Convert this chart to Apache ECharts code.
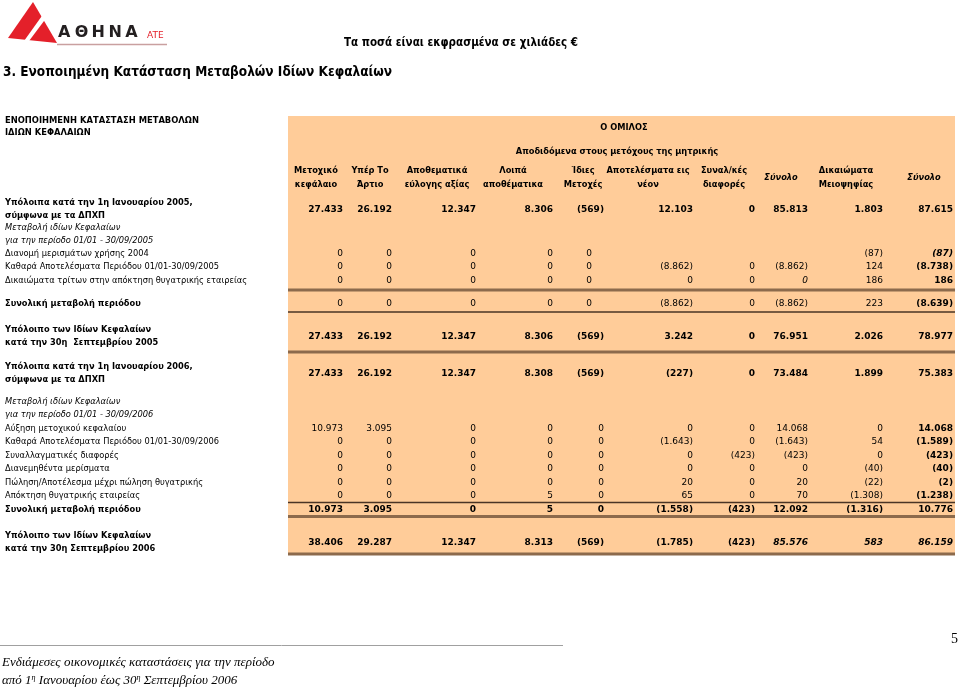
<!DOCTYPE html>
<html><head><meta charset="utf-8">
<script src="https://cdn.jsdelivr.net/npm/echarts@6/dist/echarts.min.js"></script>
<style>html,body{margin:0;padding:0;background:#fff}#c{width:960px;height:689px}</style>
</head><body><div id="c"></div>
<script>
// ================= DATA =================
const pageTitle = '3. Ενοποιημένη Κατάσταση Μεταβολών Ιδίων Κεφαλαίων';
const unitNote = 'Τα ποσά είναι εκφρασμένα σε χιλιάδες €';
const tableTitle = 'ΕΝΟΠΟΙΗΜΕΝΗ ΚΑΤΑΣΤΑΣΗ ΜΕΤΑΒΟΛΩΝ\nΙΔΙΩΝ ΚΕΦΑΛΑΙΩΝ';
const groupTitle = 'Ο ΟΜΙΛΟΣ';
const groupSubtitle = 'Αποδιδόμενα στους μετόχους της μητρικής';
const columnHeaders = ['Μετοχικό\nκεφάλαιο', 'Υπέρ Το\nΆρτιο', 'Αποθεματικά\nεύλογης αξίας', 'Λοιπά\nαποθέματικα', 'Ίδιες\nΜετοχές', 'Αποτελέσματα εις\nνέον', 'Συναλ/κές\nδιαφορές', 'Σύνολο', 'Δικαιώματα\nΜειοψηφίας', 'Σύνολο'];
const rowLabels = [
  'Υπόλοιπα κατά την 1η Ιανουαρίου 2005,\nσύμφωνα με τα ΔΠΧΠ',
  'Μεταβολή ιδίων Κεφαλαίων\nγια την περίοδο 01/01 - 30/09/2005',
  'Διανομή μερισμάτων χρήσης 2004',
  'Καθαρά Αποτελέσματα Περιόδου 01/01-30/09/2005',
  'Δικαιώματα τρίτων στην απόκτηση θυγατρικής εταιρείας',
  'Συνολική μεταβολή περιόδου',
  'Υπόλοιπο των Ιδίων Κεφαλαίων\nκατά την 30η  Σεπτεμβρίου 2005',
  'Υπόλοιπα κατά την 1η Ιανουαρίου 2006,\nσύμφωνα με τα ΔΠΧΠ',
  'Μεταβολή ιδίων Κεφαλαίων\nγια την περίοδο 01/01 - 30/09/2006',
  'Αύξηση μετοχικού κεφαλαίου',
  'Καθαρά Αποτελέσματα Περιόδου 01/01-30/09/2006',
  'Συναλλαγματικές διαφορές',
  'Διανεμηθέντα μερίσματα',
  'Πώληση/Αποτέλεσμα μέχρι πώληση θυγατρικής',
  'Απόκτηση θυγατρικής εταιρείας',
  'Συνολική μεταβολή περιόδου',
  'Υπόλοιπο των Ιδίων Κεφαλαίων\nκατά την 30η Σεπτεμβρίου 2006'
];
// values in thousands of euro, one array per row (null = empty cell)
const open2005      = [27433, 26192, 12347, 8306, -569, 12103, 0, 85813, 1803, 87615];
const header2005    = [];
const dividends2004 = [0, 0, 0, 0, 0, null, null, null, -87, -87];
const netResult2005 = [0, 0, 0, 0, 0, -8862, 0, -8862, 124, -8738];
const minority2005  = [0, 0, 0, 0, 0, 0, 0, 0, 186, 186];
const total2005     = [0, 0, 0, 0, 0, -8862, 0, -8862, 223, -8639];
const close2005     = [27433, 26192, 12347, 8306, -569, 3242, 0, 76951, 2026, 78977];
const open2006      = [27433, 26192, 12347, 8308, -569, -227, 0, 73484, 1899, 75383];
const header2006    = [];
const capIncrease2006 = [10973, 3095, 0, 0, 0, 0, 0, 14068, 0, 14068];
const netResult2006 = [0, 0, 0, 0, 0, -1643, 0, -1643, 54, -1589];
const fxDiff2006    = [0, 0, 0, 0, 0, 0, -423, -423, 0, -423];
const dividends2006 = [0, 0, 0, 0, 0, 0, 0, 0, -40, -40];
const saleSub2006   = [0, 0, 0, 0, 0, 20, 0, 20, -22, -2];
const acqSub2006    = [0, 0, 0, 5, 0, 65, 0, 70, -1308, -1238];
const total2006     = [10973, 3095, 0, 5, 0, -1558, -423, 12092, -1316, 10776];
const close2006     = [38406, 29287, 12347, 8313, -569, -1785, -423, 85576, 583, 86159];
const rowValues = [open2005, header2005, dividends2004, netResult2005, minority2005, total2005, close2005,
  open2006, header2006, capIncrease2006, netResult2006, fxDiff2006, dividends2006, saleSub2006, acqSub2006, total2006, close2006];
const logoWord = ['Α', 'Θ', 'Η', 'Ν', 'Α'];
const logoSuffix = 'ATE';
const footerLine1 = 'Ενδιάμεσες οικονομικές καταστάσεις για την περίοδο';
const pageNumber = '5';

// ================= LAYOUT / STYLE =================
const NUMFONT = '"DejaVu Sans"';
const TXTFONT = '"DejaVu Sans Condensed", "DejaVu Sans"';
const FS = 9;
const LFS = 9.2;
const colRight  = [343, 392, 476, 553, 604, 693, 755, 808, 883, 953];
const colCenter = [316, 370, 437, 513, 583, 648, 724, 781, 846, 924];
const rowY = [209.5, 234.5, 253.5, 267, 280.5, 303.5, 336.5, 373.5, 408, 428.5, 442, 455.5, 469, 482.5, 496, 509.5, 542.5];
const labelStyle = ['b','i','n','n','n','b','b','b','i','n','n','n','n','n','n','b','b'];
const cellStyle = ['bbbbbbbbbb','','nnnnnnnnnx','nnnnnnnnnb','nnnnnnninb','nnnnnnnnnb','bbbbbbbbbb','bbbbbbbbbb','',
  'nnnnnnnnnb','nnnnnnnnnb','nnnnnnnnnb','nnnnnnnnnb','nnnnnnnnnb','nnnnnnnnnb','bbbbbbbbbb','bbbbbbbxxx'];
// column 5 of the 2005 movement rows sits a little to the left in the source
const cellShift = {'2_4': -12, '3_4': -12, '4_4': -12, '5_4': -12};
const panel = {x0: 288, y0: 116, x1: 955, y1: 555};
const rules = [[290, 3, '#8c6a4c'], [312, 1.5, '#4a3425'], [352, 3, '#8c6a4c'], [502.5, 1.5, '#4a3425'], [516.5, 3, '#8c6a4c'], [554, 3, '#8c6a4c']];

function fmt(v) {
  if (v === null || v === undefined) return '';
  const s = Math.abs(v).toString().replace(/\B(?=(\d{3})+(?!\d))/g, '.');
  return v < 0 ? '(' + s + ')' : s;
}
function fontOf(st, size, fam) {
  const sz = size || FS;
  const f = fam || TXTFONT;
  if (st === 'b') return 'bold ' + sz + 'px ' + f;
  if (st === 'i') return 'italic ' + sz + 'px ' + f;
  if (st === 'x') return 'italic bold ' + sz + 'px ' + f;
  return sz + 'px ' + f;
}

const cells = [];
rowValues.forEach((vals, r) => vals.forEach((v, c) => { if (v !== null) cells.push([c, r, v]); }));
const labelItems = rowLabels.map((t, r) => [r]);
const headerItems = columnHeaders.map((t, c) => [c]);

const logoGraphics = logoWord.map((ch, i) => ({type: 'text', z: 10, x: 58 + i * 16.8, y: 41,
  style: {text: ch, font: 'bold 16px "DejaVu Sans"', fill: '#231f20', textVerticalAlign: 'bottom'}}));

const chart = echarts.init(document.getElementById('c'), null, {renderer: 'canvas'});
chart.setOption({
  animation: false,
  backgroundColor: '#ffffff',
  grid: {left: 0, right: 0, top: 0, bottom: 0},
  xAxis: {type: 'value', min: 0, max: 960, show: false},
  yAxis: {type: 'value', min: 0, max: 689, inverse: true, show: false},
  graphic: [
    {type: 'polygon', z: 10, shape: {points: [[33, 2], [8, 38], [57, 43]]}, style: {fill: '#e4202a'}},
    {type: 'polygon', z: 11, shape: {points: [[24, 41], [29, 41], [47, 17], [44, 13]]}, style: {fill: '#ffffff'}},
    {type: 'line', z: 10, shape: {x1: 57, y1: 44.5, x2: 167, y2: 44.5}, style: {stroke: '#c9a0a0', lineWidth: 1.5}},
    ...logoGraphics,
    {type: 'text', z: 10, x: 147, y: 40, style: {text: logoSuffix, font: '9px "DejaVu Sans"', fill: '#e4202a', textVerticalAlign: 'bottom'}},
    {type: 'text', z: 10, x: 344, y: 43, style: {text: unitNote, font: 'bold 11.5px ' + TXTFONT, fill: '#000', textVerticalAlign: 'middle'}},
    {type: 'text', z: 10, x: 3, y: 72, style: {text: pageTitle, font: 'bold 13.5px ' + TXTFONT, fill: '#000', textVerticalAlign: 'middle'}},
    {type: 'text', z: 10, x: 5, y: 127, style: {text: tableTitle, font: 'bold 9.3px ' + TXTFONT, fill: '#000', textVerticalAlign: 'middle', lineHeight: 12}},
    {type: 'line', z: 10, shape: {x1: 0, y1: 645.5, x2: 563, y2: 645.5}, style: {stroke: '#a0a0a0', lineWidth: 1}},
    {type: 'text', z: 10, x: 951, y: 639, style: {text: pageNumber, font: '14px "Liberation Serif"', fill: '#000', textVerticalAlign: 'middle'}},
    {type: 'text', z: 10, x: 2, y: 663, style: {text: footerLine1, font: 'italic 13px "Liberation Serif"', fill: '#000', textVerticalAlign: 'middle'}},
    {type: 'text', z: 10, x: 2, y: 681, style: {rich: {n: {font: 'italic 13px "Liberation Serif"', fill: '#000'}, s: {font: 'italic 8px "Liberation Serif"', fill: '#000', verticalAlign: 'top', padding: [0,0,6,0]}},
      text: '{n|από 1}{s|η}{n| Ιανουαρίου έως 30}{s|η}{n| Σεπτεμβρίου 2006}', textVerticalAlign: 'middle'}}
  ],
  series: [
    {
      type: 'custom', z: 1, silent: true, data: [[0]],
      renderItem: (p, api) => {
        const a = api.coord([panel.x0, panel.y0]), b = api.coord([panel.x1, panel.y1]);
        return {type: 'rect', shape: {x: a[0], y: a[1], width: b[0] - a[0], height: b[1] - a[1]}, style: {fill: '#ffcc99'}};
      }
    },
    {
      type: 'custom', z: 2, silent: true, data: rules.map((r, i) => [i]),
      renderItem: (p, api) => {
        const r = rules[api.value(0)];
        const a = api.coord([panel.x0, r[0]]), b = api.coord([panel.x1, r[0]]);
        return {type: 'line', shape: {x1: a[0], y1: a[1], x2: b[0], y2: b[1]}, style: {stroke: r[2], lineWidth: r[1]}};
      }
    },
    {
      type: 'custom', z: 3, silent: true, data: [[0], [1]],
      renderItem: (p, api) => {
        const i = api.value(0);
        const pt = i === 0 ? api.coord([624, 128]) : api.coord([617, 152]);
        return {type: 'text', x: pt[0], y: pt[1], style: {text: i === 0 ? groupTitle : groupSubtitle, font: fontOf('b', LFS), fill: '#000', align: 'center', verticalAlign: 'middle'}};
      }
    },
    {
      type: 'custom', z: 3, silent: true, data: headerItems,
      renderItem: (p, api) => {
        const c = api.value(0);
        const pt = api.coord([colCenter[c], 178]);
        const t = columnHeaders[c];
        const st = t.indexOf('\n') < 0 ? 'x' : 'b';
        return {type: 'text', x: pt[0], y: pt[1], style: {text: t, font: fontOf(st, LFS), fill: '#000', align: 'center', verticalAlign: 'middle', lineHeight: 14}};
      }
    },
    {
      type: 'custom', z: 3, silent: true, data: labelItems,
      renderItem: (p, api) => {
        const r = api.value(0);
        const pt = api.coord([5, rowY[r]]);
        return {type: 'text', x: pt[0], y: pt[1], style: {text: rowLabels[r], font: fontOf(labelStyle[r], LFS), fill: '#000', align: 'left', verticalAlign: 'middle', lineHeight: 13}};
      }
    },
    {
      type: 'custom', z: 3, silent: true, data: cells,
      renderItem: (p, api) => {
        const c = api.value(0), r = api.value(1), v = api.value(2);
        const pt = api.coord([colRight[c] + (cellShift[r + '_' + c] || 0), rowY[r]]);
        return {type: 'text', x: pt[0], y: pt[1], style: {text: fmt(v), font: fontOf(cellStyle[r][c], FS, NUMFONT), fill: '#000', align: 'right', verticalAlign: 'middle'}};
      }
    }
  ]
});
</script></body></html>
